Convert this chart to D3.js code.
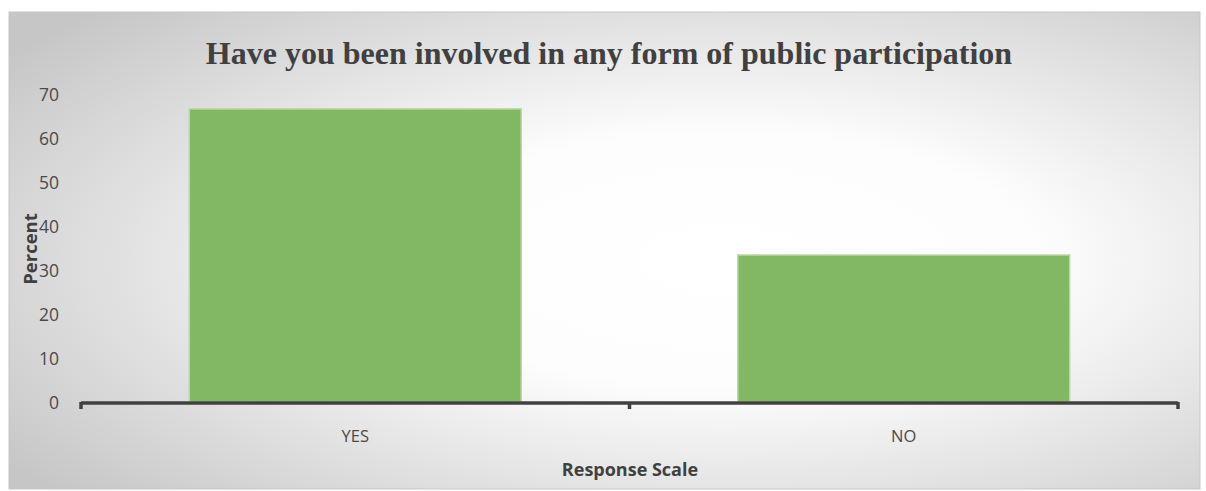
<!DOCTYPE html>
<html>
<head>
<meta charset="utf-8">
<script src="https://cdn.jsdelivr.net/npm/d3@7"></script>
<style>
  html, body { margin: 0; padding: 0; background: #ffffff; }
  svg { display: block; }
</style>
</head>
<body>
<svg id="chart" width="1206" height="491"></svg>
<script>
// Survey responses
const categories = ["YES", "NO"];
const percentValues = [66.6, 33.4];
const yTicks = [0, 10, 20, 30, 40, 50, 60, 70];

const titleText = "Have you been involved in any form of public participation";
const xTitle = "Response Scale";
const yTitle = "Percent";

const svg = d3.select("#chart");

// Chart panel background: soft radial fill, light in the middle, grey at the edges
const defs = svg.append("defs");
const grad = defs.append("radialGradient")
  .attr("id", "panelFill")
  .attr("cx", "0.6").attr("cy", "0.52").attr("r", "0.74")
  .attr("fx", "0.6").attr("fy", "0.52");
grad.append("stop").attr("offset", "0").attr("stop-color", "#ffffff");
grad.append("stop").attr("offset", "0.36").attr("stop-color", "#fdfdfd");
grad.append("stop").attr("offset", "1").attr("stop-color", "#c6c6c6");

svg.append("rect")
  .attr("x", 9).attr("y", 12)
  .attr("width", 1191).attr("height", 477)
  .attr("fill", "url(#panelFill)")
  .attr("stroke", "#c6c6c6").attr("stroke-width", 1);

const plot = { left: 81, right: 1178, top: 94, bottom: 402 };

const x = d3.scaleBand()
  .domain(categories)
  .range([plot.left, plot.right])
  .paddingInner(0.395)
  .paddingOuter(0.1975);

const y = d3.scaleLinear()
  .domain([0, 70])
  .range([plot.bottom, plot.top]);

// Bars
svg.append("g")
  .selectAll("rect")
  .data(categories.map((c, i) => ({ c, v: percentValues[i] })))
  .join("rect")
  .attr("x", d => x(d.c))
  .attr("y", d => y(d.v))
  .attr("width", x.bandwidth())
  .attr("height", d => y(0) - y(d.v))
  .attr("fill", "#82b864")
  .attr("stroke", "#b5d8a0")
  .attr("stroke-width", 1.5);

// Y axis labels (no axis line)
const yAxis = d3.axisLeft(y).tickValues(yTicks).tickSize(0).tickPadding(0);
const gy = svg.append("g")
  .attr("transform", `translate(${plot.left - 22},0)`)
  .call(yAxis);
gy.select(".domain").remove();
gy.selectAll("text")
  .attr("fill", "#4a4a4a")
  .attr("font-family", "'Open Sans', 'Liberation Sans', sans-serif")
  .attr("font-size", 17.5)
  .attr("dy", "0.35em");

// X axis: heavy baseline with short downward ticks at category boundaries
const boundaries = [plot.left, (plot.left + plot.right) / 2, plot.right];
const axisG = svg.append("g");
axisG.append("line")
  .attr("x1", plot.left).attr("x2", plot.right)
  .attr("y1", plot.bottom + 1).attr("y2", plot.bottom + 1)
  .attr("stroke", "#404040").attr("stroke-width", 3.5);
axisG.selectAll("line.tick")
  .data(boundaries)
  .join("line")
  .attr("class", "tick")
  .attr("x1", d => d).attr("x2", d => d)
  .attr("y1", plot.bottom).attr("y2", plot.bottom + 7)
  .attr("stroke", "#404040").attr("stroke-width", 3.5);

// Category labels
svg.append("g")
  .selectAll("text")
  .data(categories)
  .join("text")
  .attr("x", d => x(d) + x.bandwidth() / 2)
  .attr("y", 442)
  .attr("text-anchor", "middle")
  .attr("fill", "#4a4a4a")
  .attr("font-family", "'Open Sans', 'Liberation Sans', sans-serif")
  .attr("font-size", 16.5)
  .text(d => d);

// Title
svg.append("text")
  .attr("x", 609).attr("y", 64)
  .attr("text-anchor", "middle")
  .attr("fill", "#404040")
  .attr("font-family", "'Liberation Serif', 'DejaVu Serif', serif")
  .attr("font-weight", "bold")
  .attr("font-size", 32)
  .text(titleText);

// Axis titles
svg.append("text")
  .attr("x", 630).attr("y", 476)
  .attr("text-anchor", "middle")
  .attr("fill", "#404040")
  .attr("font-family", "'Open Sans', 'Liberation Sans', sans-serif")
  .attr("font-weight", "bold")
  .attr("font-size", 18)
  .text(xTitle);

svg.append("text")
  .attr("transform", "translate(37,249) rotate(-90)")
  .attr("text-anchor", "middle")
  .attr("fill", "#404040")
  .attr("font-family", "'Open Sans', 'Liberation Sans', sans-serif")
  .attr("font-weight", "bold")
  .attr("font-size", 18.5)
  .text(yTitle);
</script>
</body>
</html>
